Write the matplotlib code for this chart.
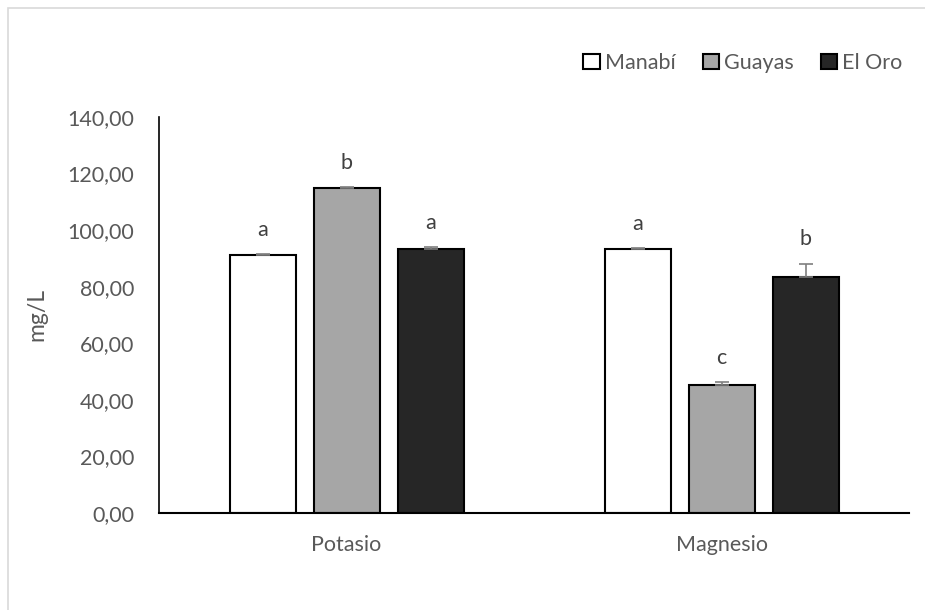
import matplotlib
matplotlib.use("Agg")
import matplotlib.pyplot as plt
import numpy as np
from matplotlib.patches import Rectangle, Patch

plt.rcParams['font.family'] = ['Lato', 'DejaVu Sans']

categories = ["Potasio", "Magnesio"]
series = ["Manabí", "Guayas", "El Oro"]
manabi = [91.3, 93.4]
guayas = [115.0, 45.4]
el_oro = [93.4, 83.6]
err_manabi = [0.3, 0.2]
err_guayas = [0.3, 0.8]
err_el_oro = [0.7, 4.6]
letters_manabi = ["a", "a"]
letters_guayas = ["b", "c"]
letters_el_oro = ["a", "b"]
yticks = [0, 20, 40, 60, 80, 100, 120, 140]

colors = ["#FFFFFF", "#A6A6A6", "#262626"]
text_color = "#595959"
fs = 15.5

fig = plt.figure(figsize=(9.25, 6.1), dpi=100)
# outer chart frame
fig.patches.append(Rectangle((8/925, -0.1), 1.2, 1 - 8/610 + 0.1, transform=fig.transFigure,
                             fill=False, edgecolor="#D9D9D9", linewidth=1.2))
ax = fig.add_axes([159/925, 1 - 513/610, 750/925, (513 - 117)/610])

x = np.arange(len(categories))
width = 0.176
offsets = [-0.224, 0.0, 0.224]
data = [manabi, guayas, el_oro]
errs = [err_manabi, err_guayas, err_el_oro]
letters = [letters_manabi, letters_guayas, letters_el_oro]

for i in range(3):
    xs = x + offsets[i]
    ax.bar(xs, data[i], width, color=colors[i], edgecolor="black", linewidth=1.5, label=series[i], zorder=2)
    ax.errorbar(xs, data[i], yerr=[np.zeros(len(xs)), errs[i]], fmt="none",
                ecolor="#7F7F7F", elinewidth=1.2, capsize=5, capthick=1.2, zorder=3)
    for xi, v, e, l in zip(xs, data[i], errs[i], letters[i]):
        ax.text(xi, v + e + 5.0, l, ha="center", va="bottom", fontsize=fs, color="#404040")

ax.set_xlim(-0.5, 1.5)
ax.set_ylim(0, 140)
ax.set_yticks(yticks)
ax.set_yticklabels([f"{t:.2f}".replace(".", ",") for t in yticks], fontsize=fs, color=text_color)
ax.set_xticks(x)
ax.set_xticklabels(categories, fontsize=fs, color=text_color)
ax.tick_params(axis="x", length=0, pad=16)
ax.tick_params(axis="y", length=0, pad=18)
for s in ["top", "right"]:
    ax.spines[s].set_visible(False)
ax.spines["left"].set_linewidth(1.2)
ax.spines["bottom"].set_linewidth(1.5)
ax.set_ylabel("mg/L", fontsize=fs + 1, color=text_color)
ax.yaxis.set_label_coords((47 - 159) / 750, 0.5)

handles = [Patch(facecolor=colors[i], edgecolor="black", linewidth=1.5) for i in range(3)]
fig.legend(handles, series, loc="center right", bbox_to_anchor=(922/925, 1 - 63/610), ncol=3,
           frameon=False, fontsize=fs, handlelength=0.75, handleheight=0.75, handletextpad=0.25,
           columnspacing=1.25, labelcolor=text_color)

fig.savefig("out.png", dpi=100)
